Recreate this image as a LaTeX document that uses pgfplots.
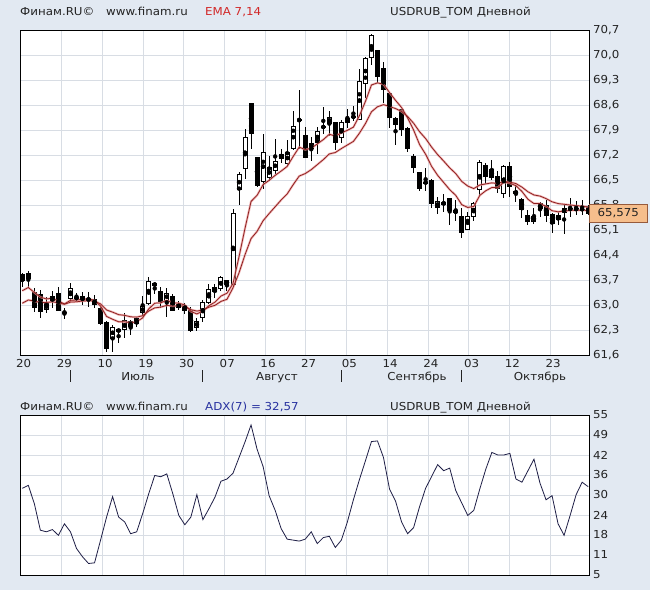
\documentclass[border=0pt]{standalone}
\usepackage{fontspec}
\setmainfont{DejaVu Sans}[FakeStretch=1.08]
\usepackage{pgfplots}
\usepackage{pgfplotstable}
\pgfplotsset{compat=1.18}
\definecolor{bg}{RGB}{226,233,242}
\definecolor{gridc}{RGB}{216,221,228}
\definecolor{emared}{RGB}{140,30,30}
\definecolor{emaglow}{RGB}{235,150,150}
\definecolor{adxc}{RGB}{30,30,70}
\definecolor{txt}{RGB}{35,35,35}
\definecolor{lblfill}{RGB}{246,190,140}
\definecolor{lbldraw}{RGB}{150,90,60}
\definecolor{emat}{RGB}{210,40,40}
\definecolor{adxt}{RGB}{40,50,160}

\pgfplotstableread{
i O H L C E7 E14 A
0 63.85 63.90 63.50 63.70 63.40 63.05 32.1
1 63.89 63.95 63.47 63.75 63.49 63.14 33.0
2 63.35 63.47 62.81 62.93 63.35 63.11 27.3
3 63.28 63.42 62.65 62.81 63.22 63.07 19.0
4 62.86 63.23 62.77 63.05 63.17 63.07 18.5
5 63.14 63.39 62.91 63.23 63.19 63.09 19.2
6 63.33 63.51 62.86 62.86 63.11 63.06 17.4
7 62.80 62.91 62.61 62.78 63.03 63.02 21.0
8 63.17 63.61 63.09 63.45 63.13 63.08 18.5
9 63.21 63.35 63.12 63.18 63.14 63.09 13.3
10 63.12 63.37 63.00 63.23 63.16 63.11 10.7
11 63.14 63.35 62.95 63.18 63.17 63.12 8.6
12 63.14 63.28 62.91 63.02 63.13 63.11 8.8
13 62.89 62.93 62.44 62.49 62.97 63.03 15.9
14 62.51 62.55 61.67 61.79 62.68 62.86 23.1
15 62.07 62.44 61.69 62.38 62.60 62.80 29.5
16 62.27 62.32 61.93 62.30 62.53 62.73 23.1
17 62.30 62.77 62.07 62.56 62.53 62.71 21.6
18 62.53 62.58 62.16 62.39 62.50 62.67 17.9
19 62.49 62.63 62.39 62.61 62.53 62.66 18.5
20 62.79 63.26 62.72 62.95 62.64 62.70 24.2
21 63.05 63.79 63.00 63.65 62.89 62.83 30.4
22 63.61 63.63 63.30 63.54 63.05 62.92 36.1
23 63.39 63.51 62.91 63.09 63.06 62.94 35.7
24 63.14 63.47 62.67 63.33 63.13 62.99 36.6
25 63.25 63.30 62.83 62.85 63.06 62.97 30.4
26 62.92 63.10 62.85 63.02 63.05 62.98 23.6
27 63.00 63.07 62.74 62.85 63.00 62.96 20.7
28 62.85 62.93 62.23 62.29 62.82 62.87 23.1
29 62.38 62.64 62.27 62.53 62.75 62.83 30.1
30 62.64 63.13 62.52 63.07 62.83 62.86 22.3
31 63.07 63.58 63.02 63.42 62.98 62.94 25.7
32 63.49 63.58 63.21 63.37 63.08 62.99 29.3
33 63.46 63.81 63.39 63.77 63.25 63.10 34.3
34 63.68 63.70 63.40 63.58 63.33 63.16 35.0
35 63.58 65.68 63.53 65.56 63.60 63.48 36.8
36 66.22 66.73 65.79 66.66 64.35 63.90 41.7
37 66.83 67.92 66.52 67.70 65.15 64.41 46.6
38 68.64 68.66 67.36 67.80 65.90 64.86 51.9
39 67.13 67.15 66.30 66.35 66.07 65.06 44.3
40 66.47 67.78 66.24 67.28 66.37 65.36 38.9
41 66.58 67.17 66.47 66.84 66.49 65.56 29.8
42 66.77 67.66 66.66 67.03 66.63 65.75 25.2
43 67.22 67.36 66.99 67.11 66.75 65.94 19.5
44 66.96 67.61 66.89 67.27 66.88 66.11 16.2
45 67.39 68.43 67.33 68.01 67.16 66.37 15.9
46 68.16 69.01 67.36 68.19 67.42 66.61 15.6
47 67.76 67.97 67.11 67.13 67.35 66.68 16.2
48 67.38 67.69 67.03 67.52 67.39 66.79 18.5
49 67.54 67.97 67.22 67.87 67.51 66.93 14.8
50 68.00 68.53 67.78 67.97 67.63 67.07 16.7
51 68.09 68.43 67.73 68.25 67.78 67.23 17.1
52 68.12 68.13 67.33 67.56 67.73 67.27 13.6
53 67.69 68.17 67.55 68.10 67.82 67.38 15.9
54 68.23 68.50 67.97 68.11 67.89 67.48 21.6
55 68.29 68.57 68.15 68.25 67.98 67.58 28.5
56 68.20 69.60 68.20 69.25 68.30 67.81 34.8
57 69.20 69.94 68.79 69.90 68.70 68.08 40.7
58 69.93 70.58 69.72 70.55 69.16 68.41 46.7
59 70.14 70.14 69.22 69.41 69.22 68.55 46.9
60 69.62 69.80 68.67 69.04 69.18 68.61 41.7
61 68.93 68.95 67.97 68.25 68.95 68.56 31.9
62 68.23 68.25 67.48 68.06 68.73 68.50 28.1
63 68.48 68.48 67.73 67.92 68.53 68.42 21.6
64 67.95 67.97 67.29 67.39 68.24 68.28 17.9
65 67.17 67.22 66.69 66.86 67.90 68.09 19.8
66 66.71 66.71 66.19 66.26 67.49 67.85 26.4
67 66.43 66.85 66.19 66.43 67.22 67.66 32.1
68 66.50 66.52 65.73 65.85 66.88 67.42 35.8
69 65.74 66.01 65.54 65.89 66.63 67.21 39.5
70 65.87 66.10 65.59 65.82 66.43 67.03 37.6
71 65.98 66.00 65.24 65.65 66.23 66.84 38.4
72 65.64 65.94 65.36 65.58 66.07 66.68 31.4
73 65.49 65.71 64.87 65.03 65.81 66.46 27.5
74 65.12 65.61 65.10 65.49 65.73 66.33 23.6
75 65.47 65.89 65.36 65.85 65.76 66.26 25.2
76 66.22 67.06 66.08 66.99 66.07 66.36 31.9
77 66.90 66.97 66.39 66.59 66.20 66.39 38.1
78 66.80 67.06 66.50 66.57 66.29 66.42 43.3
79 66.59 66.76 66.13 66.27 66.29 66.40 42.5
80 66.13 66.92 66.01 66.89 66.44 66.46 42.5
81 66.87 66.99 66.03 66.31 66.41 66.44 43.0
82 66.18 66.36 65.87 66.13 66.34 66.40 35.0
83 65.96 65.99 65.43 65.68 66.18 66.30 34.0
84 65.52 65.66 65.24 65.33 65.96 66.17 37.6
85 65.33 65.71 65.27 65.49 65.84 66.08 41.2
86 65.69 65.89 65.47 65.83 65.84 66.05 33.7
87 65.80 65.94 65.33 65.52 65.76 65.98 28.5
88 65.54 65.59 65.03 65.29 65.64 65.89 29.8
89 65.40 65.61 65.24 65.52 65.61 65.84 21.0
90 65.59 65.80 64.99 65.69 65.63 65.82 17.4
91 65.69 65.99 65.45 65.69 65.65 65.80 23.6
92 65.71 65.92 65.52 65.66 65.65 65.78 30.1
93 65.68 65.94 65.52 65.68 65.66 65.77 34.0
94 65.75 65.80 65.52 65.575 65.64 65.74 32.6
}\data

\newcommand\fs{\fontsize{11}{13}\selectfont}

\pgfplotsset{
  panel/.style={
    scale only axis, width=568.5bp, anchor=south west,
    xmin=-0.30, xmax=94.14,
    axis background/.style={fill=white},
    axis line style={black, line width=0.8bp},
    grid=major, major grid style={gridc, line width=0.7bp},
    major tick length=0pt,
    xtick={-0.27,6.50,13.26,20.03,26.79,33.55,40.32,47.08,53.85,60.61,67.37,74.14,80.90,87.67},
    yticklabel pos=right,
    every tick label/.append style={font=\fs, text=txt},
    /pgf/number format/assume math mode=true,
    yticklabel style={anchor=west, xshift=0.5bp},
  },
  ebar/.style 2 args={only marks, mark=none,
    error bars/.cd, y dir=both, y explicit, error mark=none,
    error bar style={line width=#1, #2}},
}

\begin{document}
\begin{tikzpicture}
\fill[bg] (0bp,0bp) rectangle (650bp,590bp);

\begin{axis}[panel, at={(20.5bp,235bp)}, height=325bp,
  ymin=61.6, ymax=70.7,
  ytick={61.6,62.3,63.0,63.7,64.4,65.1,65.8,66.5,67.2,67.9,68.6,69.3,70.0,70.7},
  yticklabel style={/pgf/number format/.cd, fixed, fixed zerofill, precision=1, use comma},
  xticklabels={20,29,10,19,30,07,16,27,05,14,24,03,12,23},
  xticklabel style={xshift=3bp, yshift=-0.5bp},
  after end axis/.append code={
    \node[fill=lblfill, draw=lbldraw, line width=0.6bp, anchor=west, minimum width=58bp,
      minimum height=18bp, inner sep=1bp, font=\fs, text=txt] at (axis cs:94.14,65.575) {65,575};
  }]
\addplot[ebar={1bp}{black}] table[x=i, y expr={(\thisrow{H}+\thisrow{L})/2},
  y error expr={(\thisrow{H}-\thisrow{L})/2}]{\data};
\addplot[ebar={5bp}{black}] table[x=i, y expr={(\thisrow{O}+\thisrow{C})/2},
  y error expr={abs(\thisrow{C}-\thisrow{O})/2+0.014}]{\data};
\addplot[ebar={3bp}{white}] table[x=i, y expr={(\thisrow{O}+\thisrow{C})/2},
  y error expr={(\thisrow{C}>\thisrow{O})*max((\thisrow{C}-\thisrow{O})/2-0.014,0)}]{\data};
\addplot[emaglow, line width=2.2bp, opacity=0.7, mark=none] table[x=i, y=E14]{\data};
\addplot[emaglow, line width=2.2bp, opacity=0.7, mark=none] table[x=i, y=E7]{\data};
\addplot[emared, line width=0.75bp, mark=none] table[x=i, y=E14]{\data};
\addplot[emared, line width=0.75bp, mark=none] table[x=i, y=E7]{\data};
\end{axis}

\begin{axis}[panel, at={(20.5bp,15bp)}, height=160bp,
  ymin=5, ymax=55,
  ytick={5,11.25,17.5,23.75,30,36.25,42.5,48.75,55},
  yticklabels={5,11,18,24,30,36,42,49,55},
  xticklabels={}]
\addplot[adxc, line width=0.8bp, mark=none] table[x=i, y=A]{\data};
\end{axis}

% titles
\begin{scope}[every node/.style={font=\fs, text=txt, anchor=base west, inner sep=0pt}]
\node at (20bp,574bp) {Финам.RU©};
\node at (106bp,574bp) {www.finam.ru};
\node[text=emat] at (205bp,574bp) {EMA 7,14};
\node at (390bp,574bp) {USDRUB\_TOM Дневной};
\node at (20bp,179bp) {Финам.RU©};
\node at (106bp,179bp) {www.finam.ru};
\node[text=adxt] at (205bp,179bp) {ADX(7) = 32,57};
\node at (390bp,179bp) {USDRUB\_TOM Дневной};
\end{scope}
% month labels
\begin{scope}[every node/.style={font=\fs, text=txt, anchor=base, inner sep=0pt}]
\node at (138bp,209bp) {Июль};
\node at (277bp,209bp) {Август};
\node at (417bp,209bp) {Сентябрь};
\node at (540bp,209bp) {Октябрь};
\end{scope}
\foreach \xx in {70.5,202,341,461} {\draw[txt, line width=1bp] (\xx bp,208bp) -- (\xx bp,220bp);}
\end{tikzpicture}
\end{document}
